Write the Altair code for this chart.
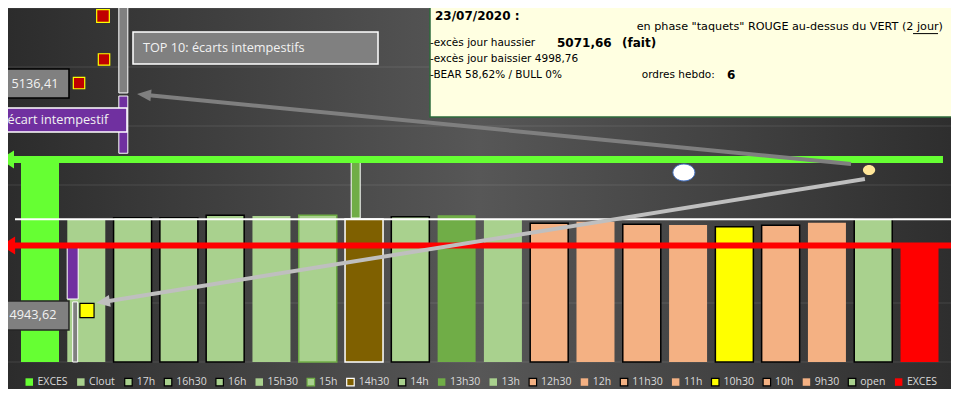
import altair as alt
import pandas as pd

W, H = 943, 381
X_DOMAIN = [-0.6913, 19.680]
Y_DOMAIN = [4877.12, 5200.0]

# ---- main bars -------------------------------------------------------------
categories = ["EXCES", "Clout", "17h", "16h30", "16h", "15h30", "15h", "14h30", "14h",
              "13h30", "13h", "12h30", "12h", "11h30", "11h", "10h30", "10h", "9h30",
              "open", "EXCES "]
values = [5071.66, 5020.3, 5022.3, 5022.3, 5024.3, 5023.7, 5024.3, 5021.1, 5023.1,
          5024.3, 5020.3, 5017.5, 5018.9, 5016.7, 5016.1, 5014.7, 5015.8, 5018.1,
          5021.1, 4998.76]
fills = ["#66ff33", "#a9d18e", "#a9d18e", "#a9d18e", "#a9d18e", "#a9d18e", "#a9d18e",
         "#7f6000", "#a9d18e", "#70ad47", "#a9d18e", "#f4b183", "#f4b183", "#f4b183",
         "#f4b183", "#ffff00", "#f4b183", "#f4b183", "#a9d18e", "#ff0000"]
strokes = ["transparent", "transparent", "#000000", "#000000", "#000000", "transparent",
           "#70ad47", "#ffffff", "#000000", "transparent", "transparent", "#000000",
           "transparent", "#000000", "transparent", "#000000", "#000000", "transparent",
           "#000000", "transparent"]
base_value = 4900
grid_values = [4900, 4950, 5000, 5050, 5100, 5150, 5200]

# ---- levels ------------------------------------------------------------------
excess_up = 5071.66
excess_down = 4998.76
close_level = 5021.0

# thin range bars (slot, top, bottom, width, fill)
thin_slots = [1.80, 1.80, 0.706, 0.760, 6.82]
thin_top = [5204.0, 5125.4, 4998.76, 4950.9, 5071.66]
thin_bottom = [5128.0, 5076.9, 4953.4, 4900.0, 5022.0]
thin_width = [9, 9, 11, 5, 9]
thin_fill = ["#808080", "#7030a0", "#7030a0", "#808080", "#70ad47"]

# markers
red_sq_slots = [1.361, 1.383, 0.843]
red_sq_vals = [5193.2, 5156.4, 5136.41]
red_sq_sizes = [160, 130, 130]
yellow_sq = (1.015, 4943.62)

# arrows (tail slot, tail value, head slot, head value, colour, angle)
arrow_tail_x = [17.52, 17.82]
arrow_tail_y = [5067.8, 5055.1]
arrow_head_x = [2.247, 1.359]
arrow_head_y = [5126.5, 4950.9]
arrow_colors = ["#7f7f7f", "#bfbfbf"]
arrow_angles = [5.6, 350.8]

# ellipses
ell_x = [13.91, 17.91]
ell_y = [5060.6, 5062.7]

# label boxes: x1, x2, y1, y2, fill, stroke
box_x1 = [-0.821, -0.864, -0.864, 2.009, 8.425]
box_x2 = [0.626, 0.626, 1.879, 7.302, 20.6]
box_y1 = [5148.3, 4951.7, 5115.3, 5179.7, 5210.0]
box_y2 = [5123.7, 4927.1, 5094.9, 5152.5, 5107.6]
box_fill = ["#808080", "#808080", "#7030a0", "#808080", "#ffffe1"]
box_stroke = ["#000000", "#262626", "#ffffff", "#ffffff", "#2e6b3c"]

# texts: text, slot, value, align, font, size, weight, colour
texts = [
    ("23/07/2020 :", 8.533, 5193.6, "left", "DejaVu Sans", 12, "bold", "#000000"),
    ('en phase "taquets" ROUGE au-dessus du VERT (2 jour)', 19.507, 5183.9, "right",
     "DejaVu Sans", 11.2, "normal", "#000000"),
    ("-excès jour haussier", 8.425, 5170.3, "left", "DejaVu Sans", 10.5, "normal", "#000000"),
    ("5071,66", 11.169, 5170.3, "left", "DejaVu Sans", 12, "bold", "#000000"),
    ("(fait)", 12.573, 5170.3, "left", "DejaVu Sans", 12, "bold", "#000000"),
    ("-excès jour baissier  4998,76", 8.425, 5156.8, "left", "DejaVu Sans", 10.5, "normal", "#000000"),
    ("-BEAR 58,62% / BULL 0%", 8.425, 5143.2, "left", "DejaVu Sans", 10.5, "normal", "#000000"),
    ("ordres hebdo:", 13.0, 5143.2, "left", "DejaVu Sans", 10.5, "normal", "#000000"),
    ("6", 14.84, 5143.2, "left", "DejaVu Sans", 12, "bold", "#000000"),
    ("TOP 10: écarts intempestifs", 2.225, 5166.1, "left", "Open Sans", 12.7, "normal", "#f2f2f2"),
    ("écart intempestif", -0.70, 5105.1, "left", "Open Sans", 12.7, "normal", "#f2f2f2"),
    ("5136,41", -0.108, 5136.0, "center", "Open Sans", 12.7, "normal", "#f2f2f2"),
    ("4943,62", -0.151, 4939.8, "center", "Open Sans", 12.7, "normal", "#f2f2f2"),
]
underline = (18.86, 19.40, 5178.3)

xs = alt.Scale(domain=X_DOMAIN, nice=False, zero=False, padding=0)
ys = alt.Scale(domain=Y_DOMAIN, nice=False, zero=False, padding=0)


def X(f):
    return alt.X(f"{f}:Q", scale=xs, axis=None)


def Y(f):
    return alt.Y(f"{f}:Q", scale=ys, axis=None)


layers = []

# background gradient
bg = alt.Chart(pd.DataFrame({"a": [0]})).mark_rect(
    color=alt.Gradient(gradient="linear", x1=0, x2=1, y1=0, y2=0,
                       stops=[alt.GradientStop(color="#2c2c2c", offset=0),
                              alt.GradientStop(color="#575757", offset=0.5),
                              alt.GradientStop(color="#2e2e2e", offset=1)])
).encode(x=alt.value(0), x2=alt.value(W), y=alt.value(0), y2=alt.value(H))
layers.append(bg)

# gridlines
layers.append(alt.Chart(pd.DataFrame({"y": grid_values})).mark_rule(
    color="#ffffff", opacity=0.11, strokeWidth=1).encode(y=Y("y")))

# main bars
bars_df = pd.DataFrame({"cat": categories, "val": values,
                        "slot": list(range(len(categories))),
                        "base": [base_value] * len(categories)})
leg = alt.Legend(title=None, orient="none", legendX=16, legendY=368.5, direction="horizontal",
                 symbolType="square", symbolSize=56, symbolStrokeWidth=1.2,
                 labelFont="Open Sans", labelFontSize=10.5, labelColor="#d9d9d9",
                 labelOffset=3, columnPadding=6.6, padding=0)
bars = alt.Chart(bars_df).mark_bar(size=38, orient="vertical", strokeWidth=1.5).encode(
    x=X("slot"), y=Y("val"), y2=alt.Y2("base:Q"),
    fill=alt.Fill("cat:N", scale=alt.Scale(domain=categories, range=fills), legend=leg),
    stroke=alt.Stroke("cat:N", scale=alt.Scale(domain=categories, range=strokes), legend=leg),
)
layers.append(bars)

# thin range bars
for s, t, b, w, f in zip(thin_slots, thin_top, thin_bottom, thin_width, thin_fill):
    d = pd.DataFrame({"x": [s], "y": [t], "y2": [b]})
    layers.append(alt.Chart(d).mark_bar(size=w, orient="vertical", fill=f, stroke="#ffffff",
                                        strokeWidth=1, clip=True).encode(
        x=X("x"), y=Y("y"), y2=alt.Y2("y2:Q")))

# horizontal level lines
lines_df = pd.DataFrame({
    "x": [-0.54, X_DOMAIN[0], X_DOMAIN[0]],
    "x2": [X_DOMAIN[1], 19.507, 19.788],
    "y": [close_level, excess_up, excess_down],
})
for i, (col, sw) in enumerate([("#ffffff", 2), ("#66ff33", 7), ("#ff0000", 6)]):
    layers.append(alt.Chart(lines_df.iloc[[i]]).mark_rule(color=col, strokeWidth=sw, clip=True)
                  .encode(x=X("x"), x2=alt.X2("x2:Q"), y=Y("y")))

# arrowheads of level lines
head_path = "M-0.78,0 L0.78,-1 L0.78,1 Z"
lvl_heads = pd.DataFrame({"x": [-0.713, -0.691], "y": [excess_up, excess_down]})
for i, (col, sz) in enumerate([("#66ff33", 324), ("#ff0000", 330)]):
    layers.append(alt.Chart(lvl_heads.iloc[[i]]).mark_point(
        shape=head_path, filled=True, color=col, opacity=1, size=sz).encode(x=X("x"), y=Y("y")))

# grey arrows
for tx, ty, hx, hy, col, ang in zip(arrow_tail_x, arrow_tail_y, arrow_head_x, arrow_head_y,
                                     arrow_colors, arrow_angles):
    d = pd.DataFrame({"x": [tx, hx], "y": [ty, hy]})
    layers.append(alt.Chart(d).mark_line(color=col, strokeWidth=4, strokeCap="butt")
                  .encode(x=X("x"), y=Y("y")))
    h = pd.DataFrame({"x": [hx], "y": [hy]})
    layers.append(alt.Chart(h).mark_point(shape="M-1,0 L1,-0.85 L1,0.85 Z", filled=True,
                                          color=col, opacity=1, size=196, angle=ang)
                  .encode(x=X("x"), y=Y("y")))

# ellipses
layers.append(alt.Chart(pd.DataFrame({"x": [ell_x[0]], "y": [ell_y[0]]})).mark_point(
    shape="M-1,0 A1,0.77 0 1,1 1,0 A1,0.77 0 1,1 -1,0 Z", filled=True, fill="#ffffff",
    stroke="#4472c4", strokeWidth=1, opacity=1, size=484).encode(x=X("x"), y=Y("y")))
layers.append(alt.Chart(pd.DataFrame({"x": [ell_x[1]], "y": [ell_y[1]]})).mark_point(
    shape="M-1,0 A1,0.83 0 1,1 1,0 A1,0.83 0 1,1 -1,0 Z", filled=True, fill="#ffe699",
    opacity=1, size=150).encode(x=X("x"), y=Y("y")))

# squares
for sx, sy, sz in zip(red_sq_slots, red_sq_vals, red_sq_sizes):
    layers.append(alt.Chart(pd.DataFrame({"x": [sx], "y": [sy]})).mark_point(
        shape="square", filled=True, fill="#c00000", stroke="#ffff00", strokeWidth=1.2,
        opacity=1, size=sz).encode(x=X("x"), y=Y("y")))
layers.append(alt.Chart(pd.DataFrame({"x": [yellow_sq[0]], "y": [yellow_sq[1]]})).mark_point(
    shape="square", filled=True, fill="#ffff00", stroke="#000000", strokeWidth=1.2,
    opacity=1, size=200).encode(x=X("x"), y=Y("y")))

# label boxes
for x1, x2, y1, y2, f, s in zip(box_x1, box_x2, box_y1, box_y2, box_fill, box_stroke):
    d = pd.DataFrame({"x": [x1], "x2": [x2], "y": [y1], "y2": [y2]})
    layers.append(alt.Chart(d).mark_rect(fill=f, stroke=s, strokeWidth=1.5, clip=True)
                  .encode(x=X("x"), x2=alt.X2("x2:Q"), y=Y("y"), y2=alt.Y2("y2:Q")))

# texts
for t, tx, ty, al, fo, fs, fw, col in texts:
    d = pd.DataFrame({"t": [t], "x": [tx], "y": [ty]})
    layers.append(alt.Chart(d).mark_text(align=al, baseline="middle", font=fo, fontSize=fs,
                                         fontWeight=fw, color=col, clip=True)
                  .encode(x=X("x"), y=Y("y"), text="t:N"))

ud = pd.DataFrame({"x": [underline[0]], "x2": [underline[1]], "y": [underline[2]]})
layers.append(alt.Chart(ud).mark_rule(color="#000000", strokeWidth=1)
              .encode(x=X("x"), x2=alt.X2("x2:Q"), y=Y("y")))

chart = alt.layer(*layers).properties(
    width=W, height=H, padding=0,
    autosize=alt.AutoSizeParams(type="none"),
    background="#2e2e2e",
).configure_view(strokeWidth=0)

chart.save("out.html", embed_options={"renderer": "svg", "actions": False})
